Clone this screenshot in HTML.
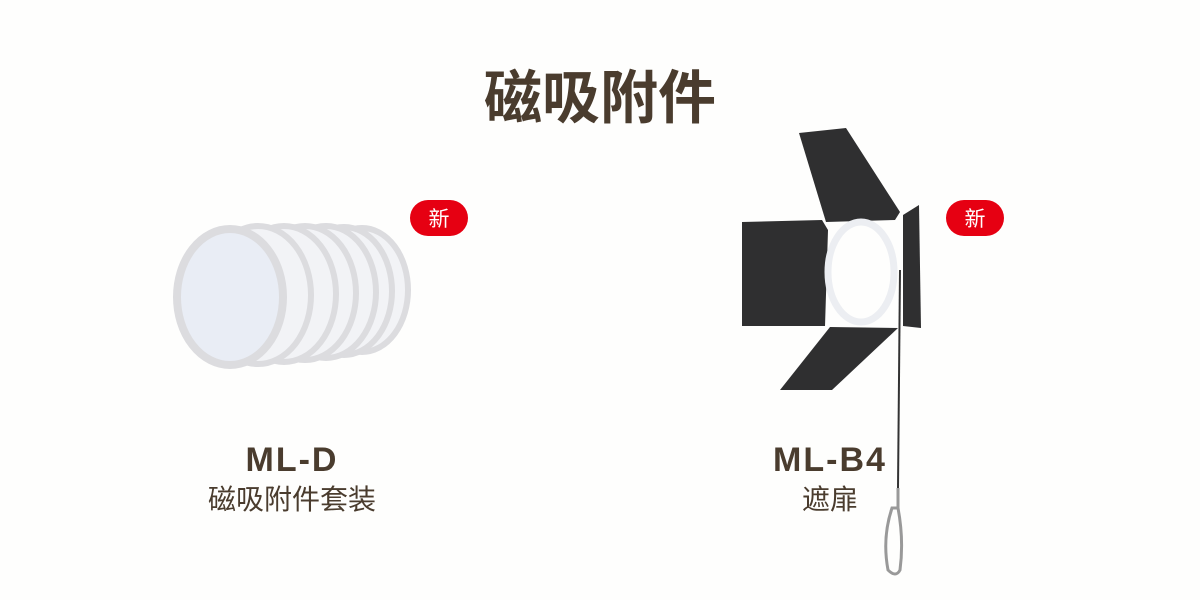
<!DOCTYPE html>
<html><head><meta charset="utf-8"><style>
body{margin:0;width:1200px;height:600px;background:#fefefd;overflow:hidden;position:relative;font-family:"Liberation Sans","Noto Sans CJK SC",sans-serif;color:#4a3c2e}
.t{position:absolute;white-space:nowrap;transform:translateX(-50%)}
.b{position:absolute;width:58px;height:36px;border-radius:18px;background:#e60012;color:#fff;font-size:21px;line-height:36px;text-align:center;font-family:"Noto Sans CJK SC",sans-serif}
</style></head><body>
<svg width="1200" height="600" style="position:absolute;left:0;top:0">
<g fill="#f2f3f6" stroke="#dcdcdf" stroke-width="6">
<ellipse cx="362" cy="290" rx="46" ry="62"/>
<ellipse cx="344" cy="291" rx="48" ry="64"/>
<ellipse cx="326" cy="292" rx="50" ry="66"/>
<ellipse cx="305" cy="293" rx="51" ry="67"/>
<ellipse cx="284" cy="294" rx="52" ry="68"/>
<ellipse cx="258" cy="295" rx="53" ry="69"/>
<ellipse cx="230" cy="297" rx="53" ry="68" fill="#e9edf5" stroke-width="8"/>
</g>
<g fill="#2f2f30">
<polygon points="799,133 846,128 900,212 895,220 826,222"/>
<polygon points="742,222 822,220 828,230 825,326 742,326"/>
<polygon points="903,215 919,205 921,328 903,326"/>
<polygon points="830,327 898,328 832,390 780,390"/>
</g>
<ellipse cx="861" cy="272" rx="33" ry="50" fill="none" stroke="#eceef2" stroke-width="7"/>
<line x1="900" y1="270" x2="898" y2="488" stroke="#333" stroke-width="2"/>
<path d="M898 488 l0 20 M892 508 q-10 30 -4 62 q8 8 12 0 q4-30 -2-62 z" fill="none" stroke="#999" stroke-width="3"/>
</svg>
<div class="t" style="left:600px;top:58px;font-size:58px;font-weight:bold;font-family:'Noto Sans CJK SC',sans-serif;line-height:70px">磁吸附件</div>
<div class="b" style="left:410px;top:200px">新</div>
<div class="b" style="left:946px;top:200px">新</div>
<div class="t" style="left:292px;top:440px;font-size:34px;font-weight:bold;line-height:40px;letter-spacing:2px">ML-D</div>
<div class="t" style="left:292px;top:482px;font-size:28px;line-height:36px">磁吸附件套装</div>
<div class="t" style="left:830px;top:440px;font-size:34px;font-weight:bold;line-height:40px;letter-spacing:2px">ML-B4</div>
<div class="t" style="left:830px;top:482px;font-size:28px;line-height:36px">遮扉</div>
</body></html>
